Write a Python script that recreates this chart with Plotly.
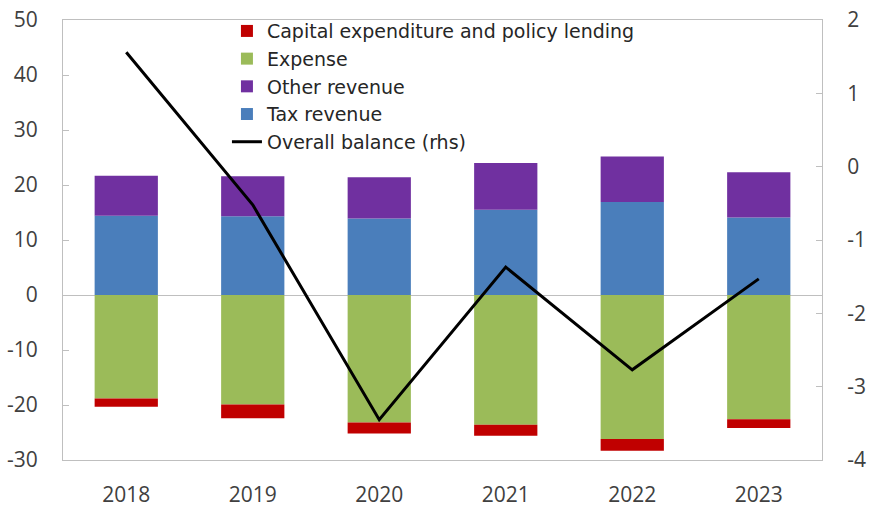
import plotly.graph_objects as go

years = ["2018", "2019", "2020", "2021", "2022", "2023"]
tax_revenue = [14.4, 14.3, 13.9, 15.5, 16.9, 14.1]
other_revenue = [7.3, 7.3, 7.5, 8.5, 8.3, 8.2]
expense = [-18.8, -19.9, -23.2, -23.6, -26.2, -22.6]
capex_lending = [-1.5, -2.5, -2.0, -2.0, -2.1, -1.6]
overall_balance = [1.56, -0.52, -3.45, -1.37, -2.77, -1.53]

left_ticks = [-30, -20, -10, 0, 10, 20, 30, 40, 50]
left_tick_text = ["-30", "-20", "-10", "0", "10", "20", "30", "40", "50"]
right_ticks = [-4, -3, -2, -1, 0, 1, 2]
right_tick_text = ["-4", "-3", "-2", "-1", "0", "1", "2"]

font_family = "Open Sans, Noto Sans, sans-serif"
text_color = "#404040"
axis_color = "#BFBFBF"

fig = go.Figure()

# Positive stack: tax at the base, other revenue on top
fig.add_trace(go.Bar(x=years, y=tax_revenue, name="Tax revenue",
                     marker=dict(color="#4A7EBB", line=dict(width=0)), legendrank=4))
fig.add_trace(go.Bar(x=years, y=other_revenue, name="Other revenue",
                     marker=dict(color="#7030A0", line=dict(width=0)), legendrank=3))
# Negative stack: expense from zero, capital spending below it
fig.add_trace(go.Bar(x=years, y=expense, name="Expense",
                     marker=dict(color="#9BBB59", line=dict(width=0)), legendrank=2))
fig.add_trace(go.Bar(x=years, y=capex_lending, name="Capital expenditure and policy lending",
                     marker=dict(color="#C00000", line=dict(width=0)), legendrank=1))
fig.add_trace(go.Scatter(x=years, y=overall_balance, name="Overall balance (rhs)",
                         mode="lines", line=dict(color="#000000", width=3),
                         yaxis="y2", legendrank=5))

fig.update_layout(
    width=869, height=509,
    margin=dict(l=63, r=47, t=20, b=49),
    paper_bgcolor="white", plot_bgcolor="white",
    barmode="relative", bargap=0.5,
    font=dict(family=font_family, color=text_color, size=21),
    showlegend=True,
    legend=dict(x=0.216, y=1.018, xanchor="left", yanchor="top",
                bgcolor="rgba(0,0,0,0)",
                font=dict(family="DejaVu Sans, sans-serif", size=19, color="#262626"),
                itemwidth=30, tracegroupgap=0),
    xaxis=dict(showline=True, linecolor=axis_color, mirror=True, ticks="",
               ticklabelstandoff=16, showgrid=False, zeroline=False,
               automargin=False, tickfont=dict(size=21)),
    yaxis=dict(range=[-30, 50], tickvals=left_ticks, ticktext=left_tick_text,
               showline=True, linecolor=axis_color,
               ticks="inside", ticklen=6, tickcolor=axis_color,
               showgrid=False, zeroline=True, zerolinecolor=axis_color, zerolinewidth=1,
               ticklabelstandoff=20, automargin=False),
    yaxis2=dict(range=[-4, 2], tickvals=right_ticks, ticktext=right_tick_text,
                overlaying="y", side="right",
                showline=True, linecolor=axis_color, ticks="inside", ticklen=6,
                tickcolor=axis_color, showgrid=False, zeroline=False,
                ticklabelstandoff=20, automargin=False),
)

fig.write_html("out.html")
